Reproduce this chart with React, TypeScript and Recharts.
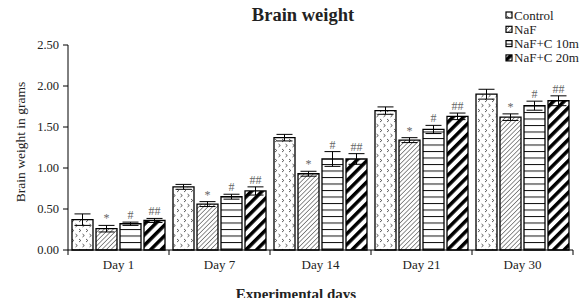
import React from 'react'
import { BarChart, Bar, XAxis, YAxis, ErrorBar, LabelList } from 'recharts'

const days = ['Day 1', 'Day 7', 'Day 14', 'Day 21', 'Day 30']
const control = [0.37, 0.77, 1.37, 1.70, 1.90]
const controlErr = [0.07, 0.03, 0.04, 0.045, 0.06]
const naf = [0.26, 0.56, 0.93, 1.34, 1.62]
const nafErr = [0.04, 0.03, 0.03, 0.03, 0.04]
const nafC10 = [0.32, 0.65, 1.11, 1.47, 1.76]
const nafC10Err = [0.02, 0.03, 0.09, 0.05, 0.055]
const nafC20 = [0.36, 0.72, 1.11, 1.63, 1.82]
const nafC20Err = [0.025, 0.05, 0.065, 0.04, 0.06]
const yTicks = [0, 0.5, 1, 1.5, 2, 2.5]

const serif = '"Liberation Serif", "Times New Roman", serif'

const data = days.map((d, i) => ({
  day: d,
  control: control[i], controlErr: controlErr[i],
  naf: naf[i], nafErr: nafErr[i],
  c10: nafC10[i], c10Err: nafC10Err[i],
  c20: nafC20[i], c20Err: nafC20Err[i],
}))

const series = [
  { key: 'control', err: 'controlErr', name: 'Control', fill: 'url(#pCtrl)', mark: '', errs: controlErr, vals: control },
  { key: 'naf', err: 'nafErr', name: 'NaF', fill: 'url(#pNaf)', mark: '*', errs: nafErr, vals: naf },
  { key: 'c10', err: 'c10Err', name: 'NaF+C 10mg', fill: 'url(#pC10)', mark: '#', errs: nafC10Err, vals: nafC10 },
  { key: 'c20', err: 'c20Err', name: 'NaF+C 20mg', fill: 'url(#pC20)', mark: '##', errs: nafC20Err, vals: nafC20 },
]

// significance mark sits just above the error bar
const markLabel = (mark: string, errs: number[], vals: number[]) => (props: any) => {
  const { x, y, width, height, index } = props
  if (!mark) return null
  const pxPerUnit = height / vals[index]
  const top = y - errs[index] * pxPerUnit
  return (
    <text x={x + width / 2} y={top - 3} textAnchor="middle" fontSize={12} fontFamily={serif} fill="#666">
      {mark}
    </text>
  )
}

const DayTick = (props: any) => {
  const { x, y, payload, index } = props
  const off = payload.offset ?? 50.5
  return (
    <g>
      <line x1={x - off} y1={y} x2={x - off} y2={y + 5} stroke="#000" />
      {index === days.length - 1 && <line x1={x + off} y1={y} x2={x + off} y2={y + 5} stroke="#000" />}
      <text x={x} y={y + 19} textAnchor="middle" fontSize={13} fontFamily={serif} fill="#222">
        {payload.value}
      </text>
    </g>
  )
}

const Patterns = () => (
  <defs>
    <pattern id="pCtrl" width="7" height="10" patternUnits="userSpaceOnUse">
      <rect width="7" height="10" fill="#fff" />
      <path d="M1 1 L2.8 2.5 L1 4 M4.5 6 L6.3 7.5 L4.5 9" stroke="#333" strokeWidth="0.8" fill="none" />
    </pattern>
    <pattern id="pNaf" width="3.2" height="3.2" patternUnits="userSpaceOnUse" patternTransform="rotate(45)">
      <rect width="3.2" height="3.2" fill="#fff" />
      <line x1="0" y1="0" x2="0" y2="3.2" stroke="#222" strokeWidth="1" />
    </pattern>
    <pattern id="pC10" width="4" height="6.5" patternUnits="userSpaceOnUse">
      <rect width="4" height="6.5" fill="#fff" />
      <line x1="0" y1="0.5" x2="4" y2="0.5" stroke="#111" strokeWidth="1" />
    </pattern>
    <pattern id="pC20" width="7.5" height="7.5" patternUnits="userSpaceOnUse" patternTransform="rotate(45)">
      <rect width="7.5" height="7.5" fill="#fff" />
      <rect x="0" y="0" width="3.5" height="7.5" fill="#000" />
    </pattern>
  </defs>
)

export default function App() {
  return (
    <div style={{ position: 'relative', width: 571, height: 290 }}>
      <BarChart
        width={571}
        height={290}
        data={data}
        margin={{ top: 37, right: 6, bottom: 18, left: 0 }}
        barCategoryGap={4}
        barGap={3}
      >
        <Patterns />
        <XAxis dataKey="day" height={30} tickLine={false} tickSize={0} tickMargin={0}
          axisLine={{ stroke: '#000' }} tick={<DayTick />} interval={0} />
        <YAxis width={60} domain={[0, 2.5]} ticks={yTicks} tickFormatter={(v: number) => v.toFixed(2)}
          axisLine={{ stroke: '#000' }} tickLine={{ stroke: '#000' }} tickSize={5} tickMargin={4}
          tick={{ fill: '#222', fontSize: 12.5, fontFamily: serif }} />
        {series.map((s) => (
          <Bar key={s.key} dataKey={s.key} name={s.name} fill={s.fill} stroke="#000" strokeWidth={1.3}
            isAnimationActive={false}>
            <ErrorBar dataKey={s.err} width={8} stroke="#000" strokeWidth={1} />
            <LabelList dataKey={s.key} content={markLabel(s.mark, s.errs, s.vals)} />
          </Bar>
        ))}
      </BarChart>
      {/* titles and legend, drawn in page coordinates */}
      <svg width={587} height={307} style={{ position: 'absolute', left: -8, top: -8, pointerEvents: 'none' }}>
        <text x={303} y={21} textAnchor="middle" fontSize={18.5} fontWeight="bold" fontFamily={serif} fill="#222">
          Brain weight
        </text>
        <text transform="translate(20,142) rotate(-90)" textAnchor="middle" dominantBaseline="central"
          fontSize={13.5} fontFamily={serif} fill="#222">
          Brain weight in grams
        </text>
        <text x={296} y={294} textAnchor="middle" dominantBaseline="central" fontSize={15}
          fontWeight="bold" fontFamily={serif} fill="#222">
          Experimental days
        </text>
        {series.map((s, i) => (
          <g key={s.key} transform={`translate(506, ${15 + i * 14.3})`}>
            <rect x={0} y={-3} width={6} height={6} fill={s.fill} stroke="#000" strokeWidth={1.2} />
            <text x={8} y={0} dominantBaseline="central" fontSize={13} fontFamily={serif} fill="#222">
              {s.name}
            </text>
          </g>
        ))}
      </svg>
    </div>
  )
}
